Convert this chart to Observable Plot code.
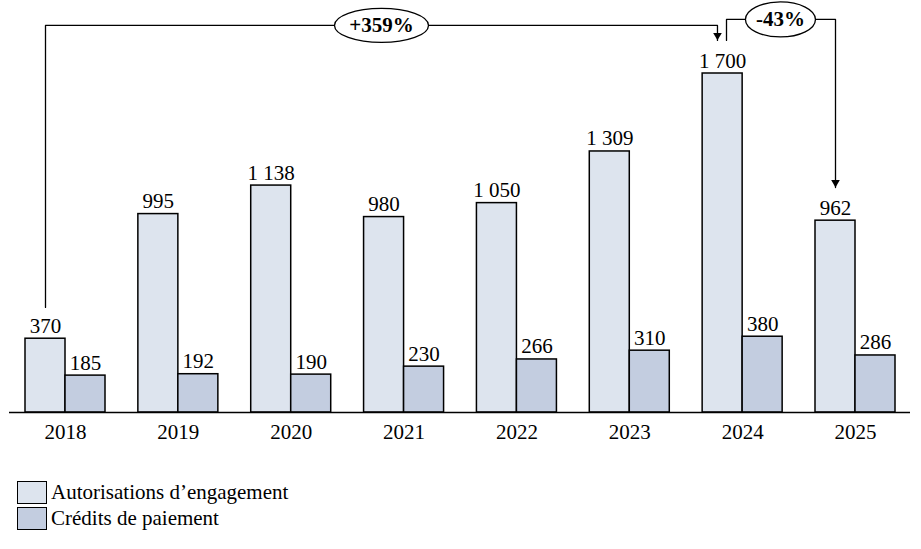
<!DOCTYPE html>
<html>
<head>
<meta charset="utf-8">
<script src="https://cdn.jsdelivr.net/npm/d3@7"></script>
<script src="https://cdn.jsdelivr.net/npm/@observablehq/plot@0.6"></script>
<style>
  body { margin: 0; background: #fff; font-family: "Liberation Serif", serif; }
  #legend { margin-left: 17px; margin-top: 19px; font-size: 21px; color: #000; }
  .item { display: flex; align-items: center; height: 26px; }
  .sw { width: 28px; height: 21px; border: 1.5px solid #000; margin-right: 4px; box-sizing: content-box; }
</style>
</head>
<body>
<div id="chart"></div>
<div id="legend"></div>
<script>
const years = [2018, 2019, 2020, 2021, 2022, 2023, 2024, 2025];
const ae = [370, 995, 1138, 980, 1050, 1309, 1700, 962];
const cp = [185, 192, 190, 230, 266, 310, 380, 286];
const seriesNames = ["Autorisations d\u2019engagement", "Crédits de paiement"];
const seriesColors = ["#dde4ee", "#c3cde0"];
const changeLabels = ["+359%", "-43%"];

const rows = years.map((year, i) => ({year, ae: ae[i], cp: cp[i]}));
const fmt = d3.formatLocale({decimal: ",", thousands: "\u00a0", grouping: [3], currency: ["", ""]}).format(",");

const w = 40 / (790 / 7); // half group width in year units
const aeAt = (y) => y - w / 2;
const cpAt = (y) => y + w / 2;

// annotation paths (year, value)
const i18 = 0, i24 = 6, i25 = 7;
const top1 = 1941, top2 = 1971;
const path1 = [
  {x: aeAt(years[i18]), y: ae[i18] + 157},
  {x: aeAt(years[i18]), y: top1},
  {x: years[i24] - 0.223, y: top1},
  {x: years[i24] - 0.223, y: 1866}
];
const path2 = [
  {x: years[i24] - 0.143, y: 1866},
  {x: years[i24] - 0.143, y: top2},
  {x: aeAt(years[i25]), y: top2},
  {x: aeAt(years[i25]), y: ae[i25] + 166}
];
const heads = [path1[3], path2[3]];
const bubbles = [
  {x: 2020.8, y: top1, label: changeLabels[0], rx: 47, ry: 17},
  {x: 2024.335, y: top2, label: changeLabels[1], rx: 35, ry: 17.5}
];

function ellipseSymbol(rx, ry) {
  const k = 0.5523;
  return {
    draw(c) {
      c.moveTo(rx, 0);
      c.bezierCurveTo(rx, ry * k, rx * k, ry, 0, ry);
      c.bezierCurveTo(-rx * k, ry, -rx, ry * k, -rx, 0);
      c.bezierCurveTo(-rx, -ry * k, -rx * k, -ry, 0, -ry);
      c.bezierCurveTo(rx * k, -ry, rx, -ry * k, rx, 0);
      c.closePath();
    }
  };
}

const chart = Plot.plot({
  width: 921,
  height: 460,
  marginLeft: 9,
  marginRight: 11,
  marginTop: 0,
  marginBottom: 48,
  style: {fontFamily: "Liberation Serif, serif", fontSize: "21px", color: "#000", background: "#fff"},
  x: {domain: [2018, 2025], range: [65, 855], ticks: years, tickFormat: (d) => String(d), tickSize: 0, tickPadding: 12, label: null},
  y: {domain: [0, 1700], range: [412, 73], axis: null},
  marks: [
    Plot.rectY(rows, {x1: (d) => d.year - w, x2: (d) => d.year, y: "ae", fill: seriesColors[0], stroke: "#000", strokeWidth: 1.5}),
    Plot.rectY(rows, {x1: (d) => d.year, x2: (d) => d.year + w, y: "cp", fill: seriesColors[1], stroke: "#000", strokeWidth: 1.5}),
    Plot.ruleY([0], {stroke: "#000", strokeWidth: 1.5}),
    Plot.text(rows, {x: (d) => aeAt(d.year), y: "ae", text: (d) => fmt(d.ae), dy: -6, lineAnchor: "bottom", fill: "#000"}),
    Plot.text(rows, {x: (d) => cpAt(d.year), y: "cp", text: (d) => fmt(d.cp), dy: -6, lineAnchor: "bottom", fill: "#000"}),
    Plot.line(path1, {x: "x", y: "y", stroke: "#000", strokeWidth: 1.3}),
    Plot.line(path2, {x: "x", y: "y", stroke: "#000", strokeWidth: 1.3}),
    Plot.dot(heads, {x: "x", y: "y", symbol: "triangle", rotate: 180, r: 3.2, fill: "#000", stroke: null, dy: -5}),
    Plot.dot([bubbles[0]], {x: "x", y: "y", symbol: ellipseSymbol(bubbles[0].rx, bubbles[0].ry), fill: "#fff", stroke: "#000", strokeWidth: 1.3}),
    Plot.dot([bubbles[1]], {x: "x", y: "y", symbol: ellipseSymbol(bubbles[1].rx, bubbles[1].ry), fill: "#fff", stroke: "#000", strokeWidth: 1.3}),
    Plot.text(bubbles, {x: "x", y: "y", text: "label", fontWeight: "bold", fontSize: 21, fill: "#000"})
  ]
});
document.getElementById("chart").appendChild(chart);

const legend = document.getElementById("legend");
seriesNames.forEach((name, i) => {
  const item = document.createElement("div");
  item.className = "item";
  const sw = document.createElement("span");
  sw.className = "sw";
  sw.style.background = seriesColors[i];
  const lab = document.createElement("span");
  lab.textContent = name;
  item.appendChild(sw);
  item.appendChild(lab);
  legend.appendChild(item);
});
</script>
</body>
</html>
